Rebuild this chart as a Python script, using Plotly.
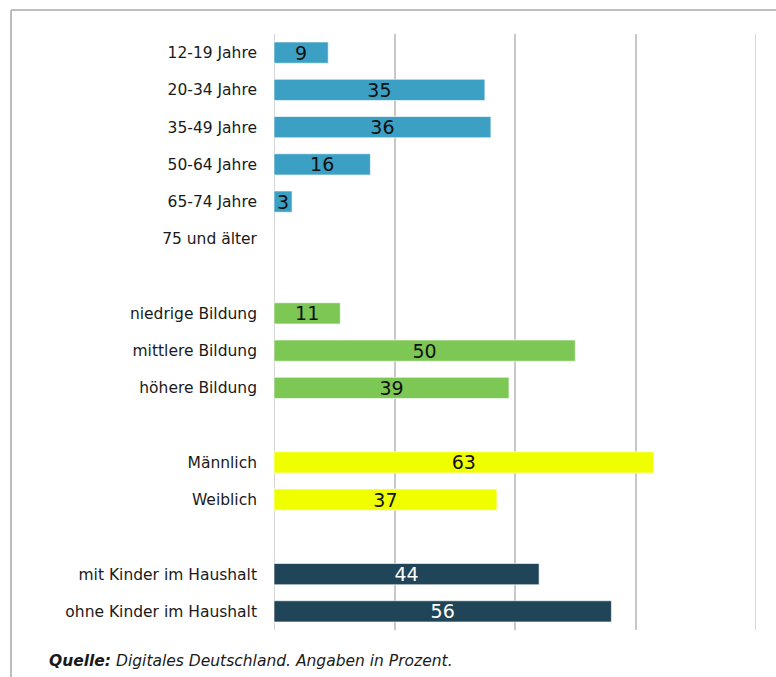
import plotly.graph_objects as go

categories = ["12-19 Jahre", "20-34 Jahre", "35-49 Jahre", "50-64 Jahre", "65-74 Jahre", "75 und älter", " ",
              "niedrige Bildung", "mittlere Bildung", "höhere Bildung", "  ",
              "Männlich", "Weiblich", "   ",
              "mit Kinder im Haushalt", "ohne Kinder im Haushalt"]
values = [9, 35, 36, 16, 3, None, None,
          11, 50, 39, None,
          63, 37, None,
          44, 56]
groups = ["age"] * 6 + [None] + ["edu"] * 3 + [None] + ["sex"] * 2 + [None] + ["kids"] * 2

group_colors = {"age": "#3ca0c5", "edu": "#7dc855", "sex": "#f0ff00", "kids": "#214558", None: "#ffffff"}
group_text = {"age": "#111111", "edu": "#111111", "sex": "#111111", "kids": "#ffffff", None: "#111111"}

colors = [group_colors[g] for g in groups]
tcolors = [group_text[g] for g in groups]
texts = ["" if v is None else str(v) for v in values]

FONT = "DejaVu Sans, sans-serif"

fig = go.Figure(go.Bar(
    y=categories, x=values, orientation="h",
    marker=dict(color=colors, line=dict(color="rgba(255,255,255,0.6)", width=1)),
    width=0.57,
    text=texts, textposition="inside", insidetextanchor="middle", textangle=0,
    textfont=dict(color=tcolors, size=19, family=FONT),
    constraintext="none", cliponaxis=False,
    hoverinfo="skip",
))

W, H = 776, 677
L, R, T, B = 274, 20, 34, 47
pw, ph = W - L - R, H - T - B

def px(x):
    return (x - L) / pw

def py(y):
    return (H - B - y) / ph

fig.update_layout(
    width=W, height=H,
    margin=dict(l=L, r=R, t=T, b=B),
    plot_bgcolor="white", paper_bgcolor="white",
    showlegend=False,
    font=dict(family=FONT, color="#1a1a1a"),
    xaxis=dict(range=[0, 80], dtick=20, showgrid=True, gridcolor="#c8c8c8", gridwidth=1.5,
               zeroline=False, showticklabels=False, showline=False, fixedrange=True),
    yaxis=dict(categoryorder="array", categoryarray=categories, autorange="reversed",
               showgrid=False, zeroline=False, showline=False,
               tickfont=dict(size=15.5, color="#1a1a1a"), ticklabelstandoff=16),
    shapes=[
        dict(type="line", xref="paper", yref="paper", x0=px(11), x1=px(790), y0=py(10), y1=py(10),
             line=dict(color="#bdbdbd", width=2)),
        dict(type="line", xref="paper", yref="paper", x0=px(11), x1=px(11), y0=py(10), y1=py(690),
             line=dict(color="#bdbdbd", width=2)),
        dict(type="line", xref="x", yref="paper", x0=0, x1=0, y0=0, y1=1, layer="below",
             line=dict(color="#c8c8c8", width=1.5)),
        dict(type="line", xref="x", yref="paper", x0=80, x1=80, y0=0, y1=1,
             line=dict(color="#c8c8c8", width=1.5)),
    ],
    annotations=[dict(
        xref="paper", yref="paper", x=px(47), y=py(661), xanchor="left", yanchor="middle",
        showarrow=False, align="left",
        text="<b><i>Quelle:</i></b><i> Digitales Deutschland. Angaben in Prozent.</i>",
        font=dict(size=15.5, color="#1a1a1a"),
    )],
)

fig.write_html("out.html")
